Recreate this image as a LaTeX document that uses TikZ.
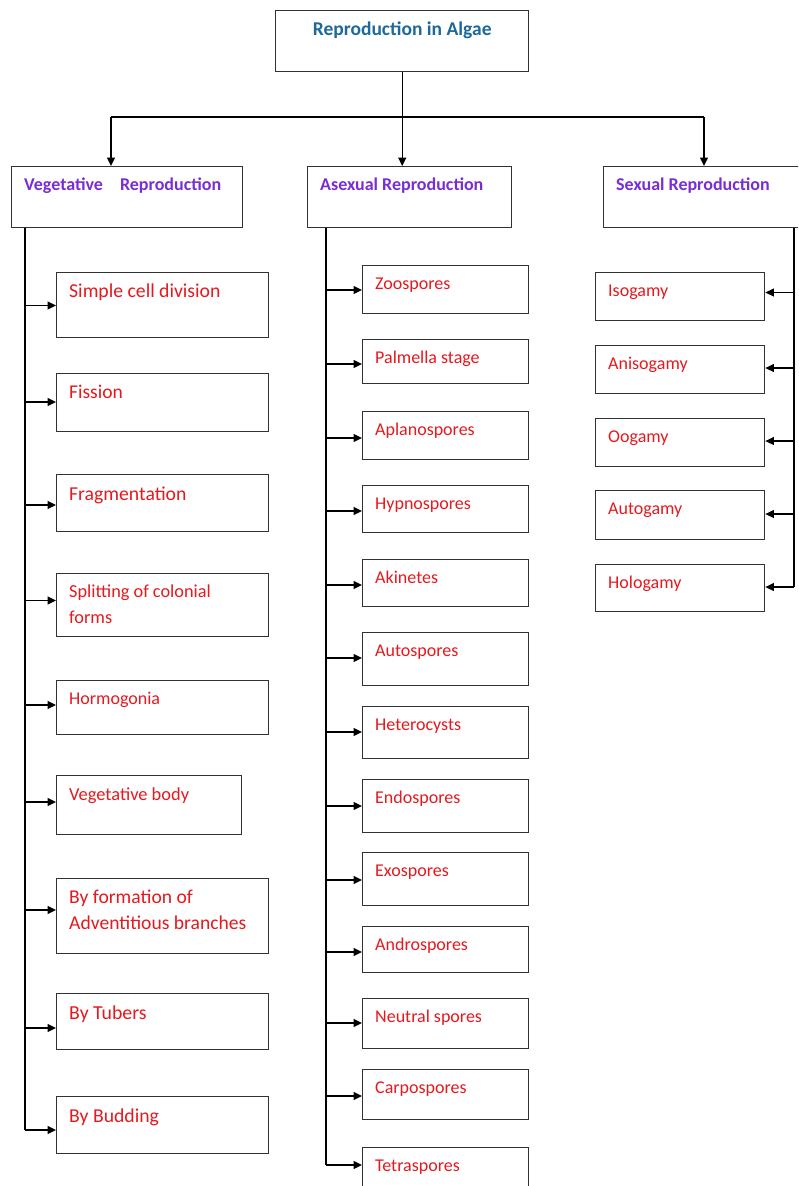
\documentclass[tikz,border=0pt]{standalone}
\usepackage{fontspec}
\setmainfont{Carlito}
\usetikzlibrary{arrows.meta}
\definecolor{leafred}{RGB}{230,25,30}
\definecolor{headpurple}{RGB}{122,45,210}
\definecolor{topblue}{RGB}{30,105,155}
\definecolor{boxgray}{RGB}{50,50,50}
\tikzset{
  leafbox/.style={draw=boxgray, line width=1.4pt, inner sep=0pt, anchor=north west},
  leaftext/.style={text=leafred, anchor=base west, inner sep=0pt},
  headtext/.style={text=headpurple, font=\bfseries\fontsize{18}{22}\selectfont, anchor=base west, inner sep=0pt},
  toptext/.style={text=topblue, font=\bfseries\fontsize{19.5}{22}\selectfont, anchor=base, inner sep=0pt},
  arr/.style={draw=black, line width=1.3pt, -{Triangle[length=8.5pt,width=8pt]}},
  trunk/.style={draw=black, line width=1.3pt}
}
% #1 name, #2 left x, #3 top y, #4 width, #5 height, #6 arrow y, #7 trunk x, #8 text, #9 font size
\newcommand\leafRt[9]{%
  \node[leafbox, minimum width=#4pt, minimum height=#5pt] (#1) at (#2,#3) {};
  \node[leaftext, font=\fontsize{#9}{25.5}\selectfont] (#1-t) at ([xshift=13pt,yshift={-(13+0.66*#9)*1pt}]#1.north west)
    {\begin{tabular}[t]{@{}l@{}}#8\end{tabular}};
  \coordinate (#1-a) at (#7,#6);
  \draw[arr] (#1-a) -- (#1-a -| #1.west);
}
\newcommand\leafLf[9]{%
  \node[leafbox, minimum width=#4pt, minimum height=#5pt] (#1) at (#2,#3) {};
  \node[leaftext, font=\fontsize{#9}{25.5}\selectfont] (#1-t) at ([xshift=13pt,yshift={-(13+0.66*#9)*1pt}]#1.north west)
    {\begin{tabular}[t]{@{}l@{}}#8\end{tabular}};
  \coordinate (#1-a) at (#7,#6);
  \draw[arr] (#1-a) -- (#1-a -| #1.east);
}
\begin{document}
\begin{tikzpicture}[x=1pt,y=-1pt]
\useasboundingbox (0,0) rectangle (798,1186);
\clip (0,0) rectangle (798,1186);
\fill[white] (0,0) rectangle (798,1186);

% top
\node[leafbox, minimum width=253pt, minimum height=61pt] (top) at (275,9.5) {};
\node[toptext] (top-t) at ([yshift=-26pt]top.north) {Reproduction in Algae};

% headers
\node[leafbox, minimum width=231pt, minimum height=60.5pt] (veg) at (11,166) {};
\node[headtext] (veg-t) at ([xshift=13pt,yshift=-24pt]veg.north west) {Vegetative\hspace{13pt} Reproduction};
\node[leafbox, minimum width=204pt, minimum height=60.5pt] (asex) at (307,166) {};
\node[headtext] (asex-t) at ([xshift=13pt,yshift=-24pt]asex.north west) {Asexual Reproduction};
\node[leafbox, minimum width=215pt, minimum height=60.5pt] (sex) at (603,166) {};
\node[headtext] (sex-t) at ([xshift=13pt,yshift=-24pt]sex.north west) {Sexual Reproduction};

% top connectors
\coordinate (hl) at (111,117);
\coordinate (hr) at (704,117);
\draw[trunk] (hl) -- (hr);
\draw[arr] (top.south) -- (top.south |- asex.north);
\draw[arr] (hl) -- (hl |- veg.north);
\draw[arr] (hr) -- (hr |- sex.north);

% vegetative
\leafRt{v1}{56}{271.5}{212}{65}{305.5}{25}{Simple cell division}{19.7}
\leafRt{v2}{56}{373}{212}{58}{402}{25}{Fission}{19.5}
\leafRt{v3}{56}{474}{212}{57}{505}{25}{Fragmentation}{19.7}
\leafRt{v4}{56}{572.5}{212}{63.5}{600.5}{25}{Splitting of colonial\\forms}{18.3}
\leafRt{v5}{56}{680}{212}{54}{705}{25}{Hormogonia}{18}
\leafRt{v6}{56}{775}{185}{59}{802}{25}{Vegetative body}{18.4}
\leafRt{v7}{56}{878}{212}{74.5}{910}{25}{By formation of\\Adventitious branches}{19.6}
\leafRt{v8}{56}{993}{212}{56}{1028}{25}{By Tubers}{19.8}
\leafRt{v9}{56}{1096}{212}{57}{1130}{25}{By Budding}{19.7}
\draw[trunk] (veg.south -| v1-a) -- (v9-a);

% asexual
\leafRt{a1}{362}{265}{166}{48}{290}{326}{Zoospores}{18}
\leafRt{a2}{362}{339}{166}{43.5}{364}{326}{Palmella stage}{18}
\leafRt{a3}{362}{411}{166}{48}{438}{326}{Aplanospores}{18}
\leafRt{a4}{362}{485}{166}{47}{511}{326}{Hypnospores}{18}
\leafRt{a5}{362}{559}{166}{47}{585}{326}{Akinetes}{18}
\leafRt{a6}{362}{632}{166}{53}{658}{326}{Autospores}{18}
\leafRt{a7}{362}{706}{166}{52}{732}{326}{Heterocysts}{18}
\leafRt{a8}{362}{779}{166}{53}{806}{326}{Endospores}{18}
\leafRt{a9}{362}{852}{166}{53}{880}{326}{Exospores}{18}
\leafRt{a10}{362}{926}{166}{46}{952}{326}{Androspores}{18}
\leafRt{a11}{362}{998}{166}{50}{1023}{326}{Neutral spores}{18}
\leafRt{a12}{362}{1069}{166}{50}{1096}{326}{Carpospores}{18}
\leafRt{a13}{362}{1147}{166}{60}{1165}{326}{Tetraspores}{18}
\draw[trunk] (asex.south -| a1-a) -- (a13-a);

% sexual
\leafLf{s1}{595}{271.5}{169}{48.5}{292.5}{794}{Isogamy}{18}
\leafLf{s2}{595}{344.5}{169}{48}{368}{794}{Anisogamy}{18}
\leafLf{s3}{595}{418}{169}{48}{441}{794}{Oogamy}{18}
\leafLf{s4}{595}{490}{169}{49}{514}{794}{Autogamy}{18}
\leafLf{s5}{595}{563.5}{169}{47.5}{587}{794}{Hologamy}{18}
\draw[trunk] (sex.south -| s1-a) -- (s5-a);
\end{tikzpicture}
\end{document}
